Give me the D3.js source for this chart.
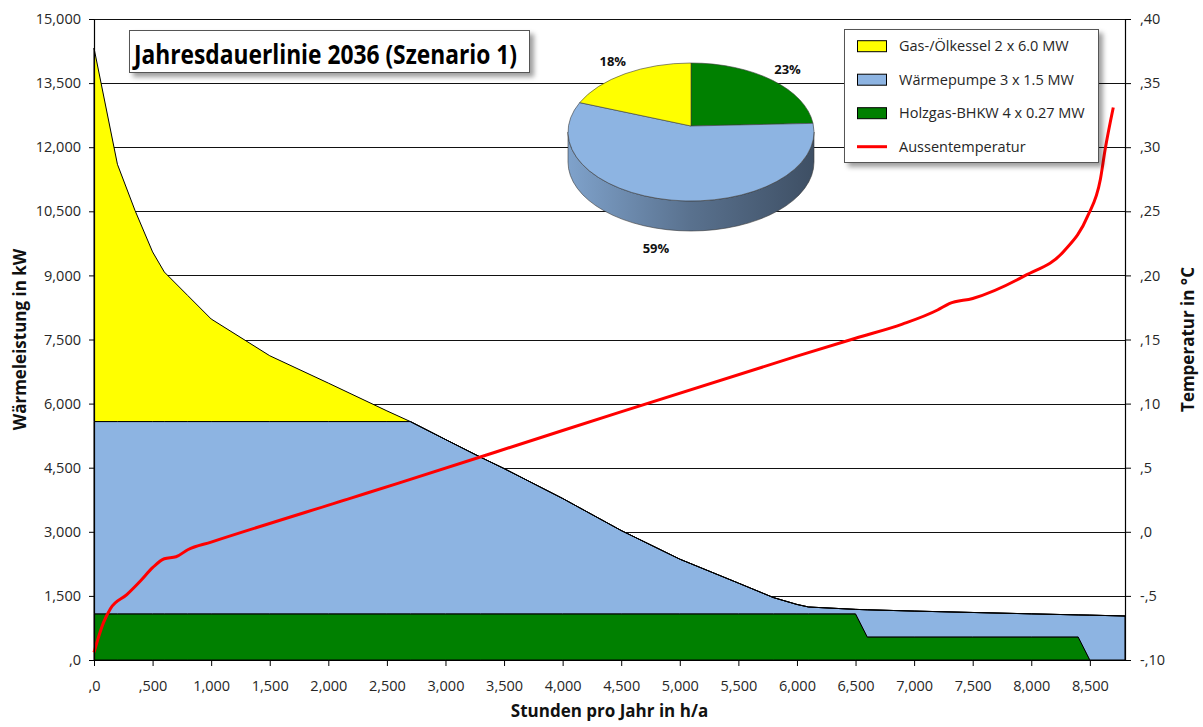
<!DOCTYPE html>
<html>
<head>
<meta charset="utf-8">
<script src="https://cdn.jsdelivr.net/npm/d3@7"></script>
<style>
  body { margin: 0; background: #fff; }
  svg { display: block; }
</style>
</head>
<body>
<svg id="chart" width="1203" height="727"></svg>
<script>
// Stunden der Jahresdauerlinie
const hours = [0, 200, 350, 500, 600, 800, 1000, 1500, 2000, 2500, 2700, 3000, 3300, 3500, 4000, 4500,
  5000, 5500, 5800, 6000, 6100, 6500, 6600, 7000, 7500, 8000, 8400, 8500, 8800];
// Waermeleistung je Erzeuger in kW
const bhkw = [1080, 1080, 1080, 1080, 1080, 1080, 1080, 1080, 1080, 1080, 1080, 1080, 1080, 1080, 1080, 1080,
  1080, 1080, 1080, 1080, 1080, 1080, 540, 540, 540, 540, 540, 0, 0];
const waermepumpe = [4500, 4500, 4500, 4500, 4500, 4500, 4500, 4500, 4500, 4500, 4500, 4080, 3665, 3400, 2700, 1950,
  1280, 720, 380, 220, 160, 105, 635, 605, 572, 540, 515, 1050, 1030];
const kessel = [8740, 6020, 4940, 3970, 3500, 2950, 2400, 1540, 900, 250, 0, 0, 0, 0, 0, 0,
  0, 0, 0, 0, 0, 0, 0, 0, 0, 0, 0, 0, 0];

// Aussentemperatur in °C
const tempHours = [0, 80, 140, 280, 400, 500, 600, 700, 800, 1000, 2200, 2600, 4000, 6000, 6500, 6900,
  7200, 7300, 7500, 7950, 8280, 8480, 8590, 8630, 8700];
const temperatur = [-9.4, -7.1, -6.0, -4.9, -3.8, -2.8, -2.1, -1.95, -1.4, -0.8, 2.65, 3.8, 7.9, 13.7, 15.1, 16.2,
  17.3, 17.8, 18.2, 20.0, 21.9, 24.6, 27.5, 29.8, 33.1];

// Anteile (Tortendiagramm), im Uhrzeigersinn ab 12 Uhr
const pieNames = ["Holzgas-BHKW", "Wärmepumpe", "Gas-/Ölkessel"];
const pieShares = [23, 59, 18];

const legendLabels = ["Gas-/Ölkessel 2 x 6.0 MW", "Wärmepumpe 3 x 1.5 MW", "Holzgas-BHKW 4 x 0.27 MW", "Aussentemperatur"];

const xTicks = [0, 500, 1000, 1500, 2000, 2500, 3000, 3500, 4000, 4500, 5000, 5500, 6000, 6500, 7000, 7500, 8000, 8500];
const yTicks = [0, 1500, 3000, 4500, 6000, 7500, 9000, 10500, 12000, 13500, 15000];
const tTicks = [-10, -5, 0, 5, 10, 15, 20, 25, 30, 35, 40];

(() => {
  const colors = { kessel: "#ffff00", waermepumpe: "#8db4e2", bhkw: "#008000", temp: "#ff0000" };
  const font = "'Open Sans', 'Noto Sans', sans-serif";

  const svg = d3.select("#chart");
  const pL = 94, pR = 1125, pT = 19, pB = 660;

  const x = d3.scaleLinear().domain([0, 8800]).range([pL, pR]);
  const y = d3.scaleLinear().domain([0, 15000]).range([pB, pT]);
  const yT = d3.scaleLinear().domain([-10, 40]).range([pB, pT]);

  // excel-like number format: ",500"  "-,5"  "1,500"
  const fmt = v => Math.abs(v) < 1000 ? (v < 0 ? "-," : ",") + Math.abs(v) : d3.format(",")(v);

  // shadow filter
  const defs = svg.append("defs");
  const shadow = defs.append("filter").attr("id", "shadow").attr("x", "-10%").attr("y", "-10%").attr("width", "130%").attr("height", "140%");
  shadow.append("feDropShadow").attr("dx", 4).attr("dy", 4).attr("stdDeviation", 2.5)
    .attr("flood-color", "#000").attr("flood-opacity", 0.38);

  // gridlines
  svg.append("g")
    .selectAll("line").data(yTicks.filter(d => d > 0)).join("line")
    .attr("x1", pL).attr("x2", pR)
    .attr("y1", d => Math.round(y(d)) + 0.5).attr("y2", d => Math.round(y(d)) + 0.5)
    .attr("stroke", "#111").attr("stroke-width", 1);

  // stacked areas
  const rows = hours.map((h, i) => ({ h, bhkw: bhkw[i], waermepumpe: waermepumpe[i], kessel: kessel[i] }));
  const stack = d3.stack().keys(["bhkw", "waermepumpe", "kessel"])(rows);
  const area = d3.area().x(d => x(d.data.h)).y0(d => y(d[0])).y1(d => y(d[1]));

  svg.append("g")
    .selectAll("path").data(stack).join("path")
    .attr("d", area)
    .attr("fill", d => colors[d.key])
    .attr("stroke", "#000").attr("stroke-width", 1).attr("stroke-linejoin", "round");

  // temperature line
  const tempLine = d3.line().x((d, i) => x(tempHours[i])).y(d => yT(d)).curve(d3.curveMonotoneX);
  svg.append("path").datum(temperatur)
    .attr("d", tempLine)
    .attr("fill", "none").attr("stroke", colors.temp).attr("stroke-width", 3).attr("stroke-linejoin", "round");

  // axes
  function styleAxis(g) {
    g.selectAll(".domain").attr("stroke", "#000").attr("stroke-width", 1.2);
    g.selectAll(".tick line").attr("stroke", "#000");
    g.selectAll("text").attr("font-family", font).attr("font-size", 14.5).attr("fill", "#262626");
  }
  svg.append("g").attr("transform", `translate(${pL},0)`)
    .call(d3.axisLeft(y).tickValues(yTicks).tickFormat(fmt).tickSize(5).tickSizeOuter(0).tickPadding(8))
    .call(styleAxis);
  svg.append("g").attr("transform", `translate(${pR},0)`)
    .call(d3.axisRight(yT).tickValues(tTicks).tickFormat(fmt).tickSize(6).tickSizeOuter(0).tickPadding(9))
    .call(styleAxis);
  svg.append("g").attr("transform", `translate(0,${pB})`)
    .call(d3.axisBottom(x).tickValues(xTicks).tickFormat(fmt).tickSize(6).tickSizeOuter(0).tickPadding(15))
    .call(styleAxis);

  // axis titles
  svg.append("text")
    .attr("transform", `translate(26,${(pT + pB) / 2}) rotate(-90)`)
    .attr("text-anchor", "middle").attr("font-family", font).attr("font-weight", "bold").attr("font-size", 17)
    .attr("fill", "#111").text("Wärmeleistung in kW");
  svg.append("text")
    .attr("transform", `translate(1194,${(pT + pB) / 2}) rotate(-90)`)
    .attr("text-anchor", "middle").attr("font-family", font).attr("font-weight", "bold").attr("font-size", 17)
    .attr("fill", "#111").text("Temperatur in °C");
  svg.append("text")
    .attr("x", (pL + pR) / 2).attr("y", 717)
    .attr("text-anchor", "middle").attr("font-family", font).attr("font-weight", "bold").attr("font-size", 17)
    .attr("fill", "#111").text("Stunden pro Jahr in h/a");

  // 3D pie
  const pcx = 691, pcy = 132, prx = 123, pry = 69, depth = 30;
  const apex = [pcx, pcy - 6];
  const pieColors = [colors.bhkw, colors.waermepumpe, colors.kessel];
  const arcs = d3.pie().sort(null).value(d => d)(pieShares);
  const pt = (a, dy = 0) => [pcx + prx * Math.sin(a), pcy - pry * Math.cos(a) + dy];

  const gPie = svg.append("g");
  arcs.forEach((a, i) => {
    const a0 = Math.max(a.startAngle, Math.PI / 2), a1 = Math.min(a.endAngle, 3 * Math.PI / 2);
    if (a0 >= a1) return;
    const base = d3.color(pieColors[i]);
    const gid = "side" + i;
    const grad = defs.append("linearGradient").attr("id", gid)
      .attr("gradientUnits", "userSpaceOnUse").attr("x1", pcx - prx).attr("x2", pcx + prx).attr("y1", 0).attr("y2", 0);
    grad.append("stop").attr("offset", "0%").attr("stop-color", base.darker(0.3));
    grad.append("stop").attr("offset", "50%").attr("stop-color", base.darker(1.3));
    grad.append("stop").attr("offset", "100%").attr("stop-color", base.darker(2.3));
    const p0 = pt(a0), p1 = pt(a1), q0 = pt(a0, depth), q1 = pt(a1, depth);
    gPie.append("path")
      .attr("d", `M${p0}A${prx},${pry} 0 0 1 ${p1}L${q1}A${prx},${pry} 0 0 0 ${q0}Z`)
      .attr("fill", `url(#${gid})`).attr("stroke", "#3a3a3a").attr("stroke-width", 0.6);
  });
  arcs.forEach((a, i) => {
    const p0 = pt(a.startAngle), p1 = pt(a.endAngle);
    const large = a.endAngle - a.startAngle > Math.PI ? 1 : 0;
    gPie.append("path")
      .attr("d", `M${apex}L${p0}A${prx},${pry} 0 ${large} 1 ${p1}Z`)
      .attr("fill", pieColors[i]).attr("stroke", "#3a3a3a").attr("stroke-width", 0.6).attr("stroke-linejoin", "round");
  });
  gPie.selectAll("text").data(arcs).join("text")
    .attr("x", d => { const m = (d.startAngle + d.endAngle) / 2; return pcx + (Math.cos(m) < 0 ? 224 : 146) * Math.sin(m); })
    .attr("y", d => { const m = (d.startAngle + d.endAngle) / 2; return pcy - (Math.cos(m) < 0 ? 88 : 84) * Math.cos(m) + (Math.cos(m) < 0 ? depth : 0); })
    .attr("dy", "0.35em").attr("text-anchor", "middle")
    .attr("font-family", font).attr("font-weight", "bold").attr("font-size", 13).attr("fill", "#111")
    .text(d => d.data + "%");

  // title box
  const gTitle = svg.append("g");
  gTitle.append("rect").attr("x", 129.5).attr("y", 30.5).attr("width", 400).attr("height", 42)
    .attr("fill", "#fff").attr("stroke", "#555").attr("stroke-width", 1).attr("filter", "url(#shadow)");
  const title = gTitle.append("text")
    .attr("font-family", font).attr("font-weight", "bold").attr("font-size", 27).attr("fill", "#000")
    .text("Jahresdauerlinie 2036 (Szenario 1)");
  const natural = title.node().getComputedTextLength();
  title.attr("transform", `translate(134,64) scale(${383 / natural},1)`);

  // legend
  const gLeg = svg.append("g");
  gLeg.append("rect").attr("x", 844.5).attr("y", 29.5).attr("width", 254).attr("height", 133)
    .attr("fill", "#fff").attr("stroke", "#555").attr("stroke-width", 1).attr("filter", "url(#shadow)");
  const legColors = [colors.kessel, colors.waermepumpe, colors.bhkw, colors.temp];
  legendLabels.forEach((lab, i) => {
    const cy = 46.2 + i * 33.5;
    if (i < 3) {
      gLeg.append("rect").attr("x", 857.5).attr("y", cy - 5.5).attr("width", 29).attr("height", 11)
        .attr("fill", legColors[i]).attr("stroke", "#000").attr("stroke-width", 1);
    } else {
      gLeg.append("line").attr("x1", 857).attr("x2", 887).attr("y1", cy).attr("y2", cy)
        .attr("stroke", legColors[i]).attr("stroke-width", 3);
    }
    gLeg.append("text").attr("x", 899).attr("y", cy).attr("dy", "0.35em")
      .attr("font-family", font).attr("font-size", 14.5).attr("fill", "#262626").text(lab);
  });
})();
</script>
</body>
</html>
